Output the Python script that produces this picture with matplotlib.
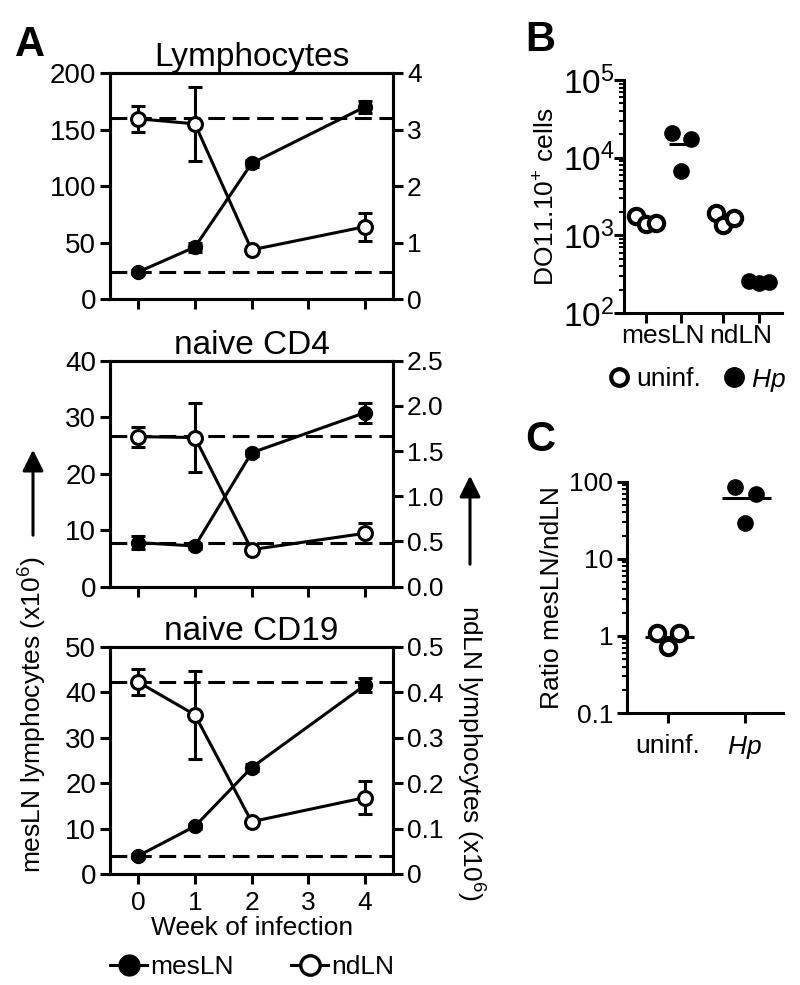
import matplotlib
matplotlib.use("Agg")
import matplotlib.pyplot as plt
from matplotlib.patches import FancyArrowPatch
from matplotlib.lines import Line2D
import numpy as np

plt.rcParams['font.family'] = ['Liberation Sans', 'DejaVu Sans']
plt.rcParams['mathtext.fontset'] = 'custom'
plt.rcParams['mathtext.rm'] = 'Liberation Sans'
plt.rcParams['mathtext.it'] = 'Liberation Sans:italic'
plt.rcParams['mathtext.default'] = 'regular'

# ---------------- data ----------------
weeks = [0, 1, 2, 4]

lym_mes = [24, 46, 120, 170]
lym_mes_err = [2, 4, 3, 5]
lym_nd = [3.19, 3.10, 0.87, 1.28]
lym_nd_err = [0.23, 0.65, 0.05, 0.25]
lym_dash = [160, 24]

cd4_mes = [7.8, 7.2, 23.7, 30.8]
cd4_mes_err = [1.2, 0.5, 0.5, 1.8]
cd4_nd = [1.66, 1.65, 0.41, 0.59]
cd4_nd_err = [0.11, 0.38, 0.03, 0.11]
cd4_dash = [26.6, 7.8]

cd19_mes = [4.0, 10.5, 23.4, 41.5]
cd19_mes_err = [0.5, 0.5, 0.8, 1.5]
cd19_nd = [0.422, 0.35, 0.115, 0.168]
cd19_nd_err = [0.028, 0.097, 0.005, 0.037]
cd19_dash = [42.3, 4.0]

titles = ["Lymphocytes", "naive CD4", "naive CD19"]
left_ticks = [[0, 50, 100, 150, 200], [0, 10, 20, 30, 40], [0, 10, 20, 30, 40, 50]]
right_ticks = [[0, 1, 2, 3, 4], [0, 0.5, 1.0, 1.5, 2.0, 2.5], [0, 0.1, 0.2, 0.3, 0.4, 0.5]]
right_labels = [["0", "1", "2", "3", "4"],
                ["0.0", "0.5", "1.0", "1.5", "2.0", "2.5"],
                ["0", "0.1", "0.2", "0.3", "0.4", "0.5"]]
week_ticks = [0, 1, 2, 3, 4]

# panel B
b_groups = ["mesLN", "ndLN"]
b_mes_uninf = [1800, 1400, 1460]
b_mes_hp = [20600, 6800, 17300]
b_nd_uninf = [1920, 1360, 1660]
b_nd_hp = [255, 240, 250]

# panel C
c_labels = ["uninf.", "Hp"]
c_uninf = [1.08, 0.72, 1.10]
c_hp = [86, 29, 69]

# ---------------- figure ----------------
fig = plt.figure(figsize=(8, 9.85), dpi=100)

LW = 2.2
FS = 19
TFS = 24

def style_ax(ax):
    for s in ax.spines.values():
        s.set_linewidth(LW)
    ax.tick_params(which='major', direction='out', length=7, width=LW, labelsize=FS, pad=3)
    ax.tick_params(which='minor', direction='out', length=3.5, width=1.5)

a_rects = [[0.1375, 0.6964, 0.354, 0.2295],
           [0.1375, 0.4044, 0.354, 0.2294],
           [0.1375, 0.1127, 0.354, 0.2308]]
mes_sets = [(lym_mes, lym_mes_err), (cd4_mes, cd4_mes_err), (cd19_mes, cd19_mes_err)]
nd_sets = [(lym_nd, lym_nd_err), (cd4_nd, cd4_nd_err), (cd19_nd, cd19_nd_err)]
dashes = [lym_dash, cd4_dash, cd19_dash]

for i in range(3):
    ax = fig.add_axes(a_rects[i])
    ax2 = ax.twinx()
    style_ax(ax)
    style_ax(ax2)
    lt = left_ticks[i]
    rt = right_ticks[i]
    ax.set_ylim(lt[0], lt[-1])
    ax2.set_ylim(rt[0], rt[-1])
    ax.set_xlim(-0.5, 4.5)
    ax.set_yticks(lt)
    ax.set_yticklabels([str(v) for v in lt], fontsize=20)
    ax2.set_yticks(rt)
    ax2.set_yticklabels(right_labels[i])
    ax.set_xticks(week_ticks)
    if i < 2:
        ax.set_xticklabels([])
    else:
        ax.set_xticklabels([str(w) for w in week_ticks])
        ax.tick_params(axis='x', pad=5)
        ax.set_xlabel("Week of infection", fontsize=FS, labelpad=1)
    ax.set_title(titles[i], fontsize=TFS, pad=1)
    for d in dashes[i]:
        ax.axhline(d, color='k', lw=LW, ls=(0, (5.5, 2.5)), zorder=1)
    m, me = mes_sets[i]
    n, ne = nd_sets[i]
    ax.errorbar(weeks, m, yerr=me, color='k', lw=LW, marker='o', ms=10,
                mfc='k', mec='k', capsize=5, capthick=LW, elinewidth=LW, zorder=3)
    ax2.errorbar(weeks, n, yerr=ne, color='k', lw=LW, marker='o', ms=10,
                 mfc='white', mec='k', mew=2.2, capsize=5, capthick=LW, elinewidth=LW, zorder=3)

# A axis labels with arrows
fig.text(0.041, 1 - 715 / 985, "mesLN lymphocytes (x10$^{6}$)", rotation=90,
         ha='center', va='center', fontsize=FS)
fig.text(0.588, 1 - 753 / 985, "ndLN lymphocytes (x10$^{6}$)", rotation=270,
         ha='center', va='center', fontsize=FS)
fig.add_artist(FancyArrowPatch((33 / 800, 1 - 538 / 985), (33 / 800, 1 - 447 / 985),
                               transform=fig.transFigure, arrowstyle='-|>',
                               mutation_scale=32, lw=2.2, color='k'))
fig.add_artist(FancyArrowPatch((470 / 800, 1 - 567 / 985), (470 / 800, 1 - 473 / 985),
                               transform=fig.transFigure, arrowstyle='-|>',
                               mutation_scale=32, lw=2.2, color='k'))

# A legend
h1 = Line2D([], [], color='k', lw=LW, marker='o', ms=15, mfc='k', mec='k')
h2 = Line2D([], [], color='k', lw=LW, marker='o', ms=14, mfc='white', mec='k', mew=2.4)
fig.legend([h1, h2], ["mesLN", "ndLN"], loc='center', bbox_to_anchor=(0.315, 1 - 967 / 985),
           ncol=2, frameon=False, fontsize=FS, handlelength=1.4, handletextpad=0.1,
           columnspacing=2.2)

# ---------------- panel B ----------------
axb = fig.add_axes([0.78, 0.6822, 0.1975, 0.2366])
style_ax(axb)
axb.spines['top'].set_visible(False)
axb.spines['right'].set_visible(False)
axb.set_yscale('log')
axb.set_ylim(1e2, 1e5)
b_pos = [0, 1, 2.2, 3.2]
axb.set_xlim(-0.61, 3.86)
b_sets = [(b_mes_uninf, 'white', [-0.27, 0.0, 0.3]),
          (b_mes_hp, 'k', [-0.25, 0.0, 0.28]),
          (b_nd_uninf, 'white', [-0.22, 0.0, 0.3]),
          (b_nd_hp, 'k', [-0.28, 0.0, 0.3])]
for p, (vals, fc, offs) in zip(b_pos, b_sets):
    axb.hlines(np.mean(vals), p - 0.35, p + 0.35, color='k', lw=LW, zorder=2)
    axb.plot([p + o for o in offs], vals, ls='none', marker='o', ms=11, mfc=fc,
             mec='k', mew=3.0 if fc == 'white' else 1, zorder=3, clip_on=False)
axb.set_xticks(b_pos)
axb.set_xticklabels([])
axb.set_xticks([0.5, 2.7], minor=True)
axb.set_xticklabels(b_groups, minor=True, fontsize=FS)
axb.tick_params(axis='x', which='minor', length=0, pad=8)
axb.set_yticks([1e2, 1e3, 1e4, 1e5])
axb.set_yticklabels([r"$10^{2}$", r"$10^{3}$", r"$10^{4}$", r"$10^{5}$"], fontsize=24)
axb.tick_params(axis='y', which='major', pad=0)
axb.set_ylabel("DO11.10$^{+}$ cells", fontsize=FS, labelpad=2)

hb1 = Line2D([], [], ls='none', marker='o', ms=12, mfc='white', mec='k', mew=3.0)
hb2 = Line2D([], [], ls='none', marker='o', ms=14, mfc='k', mec='k')
fig.legend([hb1, hb2], ["uninf.", "$\\mathit{Hp}$"], loc='center',
           bbox_to_anchor=(0.872, 1 - 380 / 985), ncol=2, frameon=False, fontsize=FS,
           handlelength=0.7, handletextpad=0.3, columnspacing=0.9)

# ---------------- panel C ----------------
axc = fig.add_axes([0.784, 0.2761, 0.195, 0.2349])
style_ax(axc)
axc.spines['top'].set_visible(False)
axc.spines['right'].set_visible(False)
axc.set_yscale('log')
axc.set_ylim(0.1, 100)
axc.set_xlim(-0.53, 1.5)
c_sets = [(c_uninf, 'white', [-0.14, 0.0, 0.14]), (c_hp, 'k', [-0.13, 0.0, 0.15])]
for p, (vals, fc, offs) in zip([0, 1], c_sets):
    axc.hlines(np.mean(vals), p - 0.3, p + 0.34, color='k', lw=LW, zorder=2)
    axc.plot([p + o for o in offs], vals, ls='none', marker='o', ms=11, mfc=fc,
             mec='k', mew=3.0 if fc == 'white' else 1, zorder=3, clip_on=False)
axc.set_xticks([0, 1])
axc.set_xticklabels(["uninf.", "$\\mathit{Hp}$"], fontsize=FS)
axc.tick_params(axis='x', pad=8)
axc.set_yticks([0.1, 1, 10, 100])
axc.set_yticklabels(["0.1", "1", "10", "100"], fontsize=FS)
axc.set_ylabel("Ratio mesLN/ndLN", fontsize=FS, labelpad=4)

# panel letters
fig.text(30 / 800, 1 - 45 / 985, "A", fontsize=30, fontweight='bold', ha='center', va='center')
fig.text(540 / 800, 1 - 40 / 985, "B", fontsize=30, fontweight='bold', ha='center', va='center')
fig.text(540 / 800, 1 - 440 / 985, "C", fontsize=30, fontweight='bold', ha='center', va='center')

fig.savefig("out.png", dpi=100)
